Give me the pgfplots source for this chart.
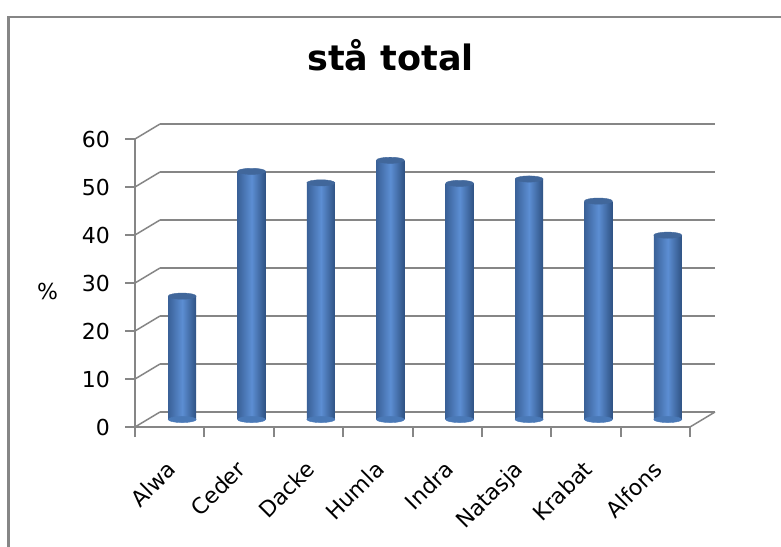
\documentclass[border=0pt]{standalone}
\usepackage{pgfplots}
\pgfplotsset{compat=1.18}
\usepackage{pgfplotstable}
\usepackage{fontspec}
\setmainfont{DejaVu Sans}

\definecolor{gridgray}{HTML}{868686}
\definecolor{barEdgeL}{HTML}{3A6198}
\definecolor{barEdgeR}{HTML}{2F5283}
\definecolor{barHi}{HTML}{5C8ED3}
\definecolor{barTop}{HTML}{41679B}
\definecolor{barBase}{HTML}{4A79B7}

% share standing per group (%)
\pgfplotstableread{
idx name value base
0.5 Alwa 25.7 0
1.5 Ceder 51.7 0
2.5 Dacke 49.3 0
3.5 Humla 54.0 0
4.5 Indra 49.2 0
5.5 Natasja 50.1 0
6.5 Krabat 45.5 0
7.5 Alfons 38.4 0
}\standdata

\pgfplotsset{
  panel/.style={scale only axis, width=555pt, height=288pt,
    xmin=0, xmax=8, ymin=0, ymax=60, anchor=south west},
}

\begin{document}
\begin{tikzpicture}[x=1pt,y=1pt]
\useasboundingbox (0,0) rectangle (781,546);

% chart frame
\draw[gridgray, line width=2.5pt] (8.5,-5) -- (8.5,529) -- (790,529);

% title and axis label
\node[anchor=base, font=\fontsize{35}{40}\selectfont\bfseries] at (390.5,475.8) {stå total};
\node[font=\fontsize{22}{26}\selectfont] at (47.5,254.5) {\%};

% back wall with gridlines
\begin{axis}[panel, at={(160pt,134pt)},
  axis line style={draw=none}, xtick=\empty,
  ytick={0,10,...,60}, yticklabels={}, major tick length=0pt,
  ymajorgrids, grid style={gridgray, line width=2pt}]
\end{axis}

% side wall and floor edges
\foreach \k in {0,...,6}
  \draw[gridgray, line width=1.5pt] (135,{119+48*\k}) -- (160,{134+48*\k});
\draw[gridgray, line width=1.5pt] (690,119) -- (715,134);

% cylinders, placed at mid depth
\begin{axis}[panel, at={(147.5pt,126.5pt)}, hide axis, clip=false]
\addplot[only marks, color=barBase, mark=*, mark size=14pt,
  mark options={yscale=0.22, fill=barBase, draw=none}]
  table[x=idx, y=base]{\standdata};
% one plot per cylinder so that each gets its own shading
\pgfplotsinvokeforeach{0,...,7}{
  \addplot[ybar, bar width=28pt, bar shift=0pt, draw=none,
    left color=barEdgeL, right color=barEdgeR, middle color=barHi,
    restrict x to domain=#1.2:#1.8]
    table[x=idx, y=value]{\standdata};
}
\addplot[only marks, color=barTop, mark=*, mark size=14pt,
  mark options={yscale=0.22, fill=barTop, draw=none}]
  table[x=idx, y=value]{\standdata};
\end{axis}

% front axes
\begin{axis}[panel, at={(135pt,119pt)},
  axis x line*=bottom, axis y line*=left,
  axis line style={gridgray, line width=2pt, -},
  xtick={0.5,1.5,...,7.5},
  xticklabels={Alwa,Ceder,Dacke,Humla,Indra,Natasja,Krabat,Alfons},
  minor xtick={0,1,...,8},
  ytick={0,10,...,60},
  tick align=outside, major tick length=10pt, minor tick length=10pt,
  tick style={gridgray, line width=2pt},
  major x tick style={draw=none},
  tick label style={font=\fontsize{22}{26}\selectfont, text=black},
  xticklabel style={anchor=north east, inner sep=0pt, xshift=-4pt, yshift=-22pt, rotate=45},
  yticklabel style={anchor=east, inner sep=0pt, xshift=-15pt},
  /pgf/number format/assume math mode=true]
\end{axis}
\end{tikzpicture}
\end{document}
